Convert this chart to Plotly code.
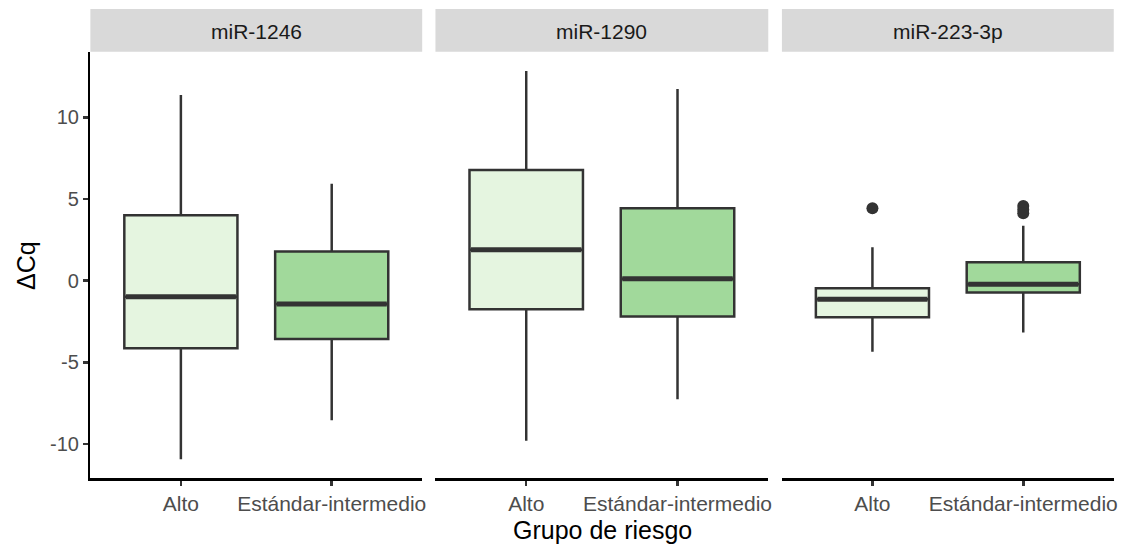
import plotly.graph_objects as go

# ---- data ----
panels = ["miR-1246", "miR-1290", "miR-223-3p"]
groups = ["Alto", "Estándar-intermedio"]
group_colors = ["#E5F5E0", "#A1D99B"]

# per panel: [Alto, Estándar-intermedio]
lowerfence = [[-10.94, -8.55], [-9.80, -7.26], [-4.35, -3.18]]
q1 = [[-4.14, -3.57], [-1.75, -2.20], [-2.24, -0.73]]
median = [[-0.98, -1.43], [1.90, 0.12], [-1.14, -0.22]]
q3 = [[4.00, 1.78], [6.78, 4.43], [-0.47, 1.13]]
upperfence = [[11.37, 5.94], [12.84, 11.74], [2.05, 3.37]]
outliers = [[[], []], [[], []], [[4.43], [4.57, 4.35, 4.13]]]

y_tickvals = [-10, -5, 0, 5, 10]
y_ticktext = ["-10", "-5", "0", "5", "10"]
y_range = [-12.10, 14.02]

# ---- layout constants ----
W, H = 1132, 544
panel_px = [(90.7, 423.7), (437.0, 771.0), (784.7, 1117.7)]
panel_top, panel_bot = 51.7, 478.3
strip_top = 9.0
box_w = 0.75
line_col = "#333333"
font_fam = "Liberation Sans, Arial, sans-serif"

fig = go.Figure()

for p in range(3):
    ax = "" if p == 0 else str(p + 1)
    for g in range(2):
        pos = g + 1
        fig.add_trace(go.Box(
            x=[pos], q1=[q1[p][g]], median=[median[p][g]], q3=[q3[p][g]],
            lowerfence=[lowerfence[p][g]], upperfence=[upperfence[p][g]],
            width=box_w, whiskerwidth=0, fillcolor=group_colors[g],
            line=dict(color=line_col, width=2.5), boxpoints=False,
            xaxis="x" + ax, yaxis="y" + ax, showlegend=False, hoverinfo="skip"))
        # thick median line (ggplot fatten)
        fig.add_trace(go.Scatter(
            x=[pos - box_w / 2 + 0.01, pos + box_w / 2 - 0.01],
            y=[median[p][g], median[p][g]], mode="lines",
            line=dict(color=line_col, width=5),
            xaxis="x" + ax, yaxis="y" + ax, showlegend=False, hoverinfo="skip"))
        if outliers[p][g]:
            fig.add_trace(go.Scatter(
                x=[pos] * len(outliers[p][g]), y=outliers[p][g], mode="markers",
                marker=dict(color=line_col, size=12),
                xaxis="x" + ax, yaxis="y" + ax, showlegend=False, hoverinfo="skip"))

ydom = [(H - panel_bot) / H, (H - panel_top) / H]
layout = dict(
    width=W, height=H, margin=dict(l=0, r=0, t=0, b=0),
    plot_bgcolor="white", paper_bgcolor="white",
    font=dict(family=font_fam), showlegend=False,
)
shapes = []
annotations = []
for p in range(3):
    ax = "" if p == 0 else str(p + 1)
    x0, x1 = panel_px[p]
    layout["xaxis" + ax] = dict(
        domain=[x0 / W, x1 / W], range=[0.4, 2.6], anchor="y" + ax,
        tickvals=[1, 2], ticktext=groups, showline=True, linecolor="black",
        linewidth=2.5, ticks="outside", ticklen=5, tickwidth=2.5, tickcolor=line_col,
        tickfont=dict(size=21, color="#4D4D4D"), showgrid=False, zeroline=False,
        fixedrange=True)
    layout["yaxis" + ax] = dict(
        domain=ydom, range=y_range, anchor="x" + ax,
        showgrid=False, zeroline=False, fixedrange=True,
        showline=(p == 0), linecolor="black", linewidth=2.5,
        ticks="outside" if p == 0 else "", ticklen=5, tickwidth=2.5, tickcolor=line_col,
        tickvals=y_tickvals, ticktext=y_ticktext if p == 0 else [""] * 5,
        showticklabels=(p == 0), tickfont=dict(size=20, color="#4D4D4D"))
    shapes.append(dict(type="rect", xref="paper", yref="paper",
                       x0=x0 / W, x1=x1 / W, y0=(H - panel_top) / H, y1=(H - strip_top) / H,
                       fillcolor="#D9D9D9", line=dict(width=0), layer="below"))
    annotations.append(dict(text=panels[p], xref="paper", yref="paper",
                            x=(x0 + x1) / 2 / W, y=(H - (strip_top + panel_top) / 2 - 1) / H,
                            showarrow=False, xanchor="center", yanchor="middle",
                            font=dict(size=21, color="#1A1A1A")))

annotations.append(dict(text="Grupo de riesgo", xref="paper", yref="paper",
                        x=(panel_px[0][0] + panel_px[2][1]) / 2 / W, y=(H - 530) / H,
                        showarrow=False, xanchor="center", yanchor="middle",
                        font=dict(size=25, color="black")))
annotations.append(dict(text="ΔCq", xref="paper", yref="paper",
                        x=26 / W, y=(H - (panel_top + panel_bot) / 2) / H,
                        showarrow=False, xanchor="center", yanchor="middle", textangle=-90,
                        font=dict(size=25, color="black")))
layout["shapes"] = shapes
layout["annotations"] = annotations
fig.update_layout(**layout)

fig.write_html("out.html", config={"displayModeBar": False, "staticPlot": True})
with open("out.html", encoding="utf-8") as f:
    html = f.read()
html = html.replace("<body>", '<body style="margin:0;padding:0;overflow:hidden">', 1)
with open("out.html", "w", encoding="utf-8") as f:
    f.write(html)
